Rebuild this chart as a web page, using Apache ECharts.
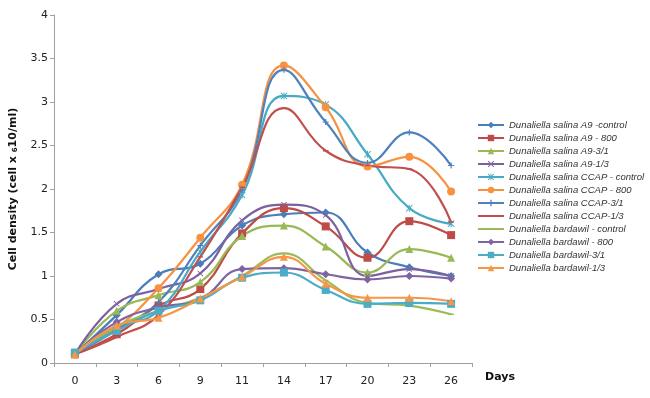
<!DOCTYPE html>
<html>
<head>
<meta charset="utf-8">
<script src="https://cdn.jsdelivr.net/npm/echarts@6/dist/echarts.min.js"></script>
<style>
  html, body { margin: 0; padding: 0; background: #fff; }
  #chart { width: 650px; height: 398px; }
</style>
</head>
<body>
<div id="chart"></div>
<script>
// categories (days)
const days = ["0", "3", "6", "9", "11", "14", "17", "20", "23", "26"];
const yTicks = [0, 0.5, 1, 1.5, 2, 2.5, 3, 3.5, 4];

// cell density values
const a9Control = [0.1, 0.55, 1.02, 1.14, 1.58, 1.71, 1.73, 1.27, 1.1, 1.0];
const a9_800 = [0.1, 0.33, 0.66, 0.85, 1.49, 1.78, 1.57, 1.21, 1.63, 1.47];
const a9_31 = [0.1, 0.6, 0.78, 0.93, 1.46, 1.58, 1.34, 1.04, 1.31, 1.21];
const a9_13 = [0.1, 0.68, 0.85, 1.03, 1.64, 1.82, 1.7, 1.0, 1.08, 1.0];
const ccapControl = [0.1, 0.4, 0.6, 1.28, 1.93, 3.07, 2.97, 2.4, 1.78, 1.6];
const ccap_800 = [0.1, 0.4, 0.86, 1.44, 2.05, 3.42, 2.94, 2.26, 2.37, 1.97];
const ccap_31 = [0.1, 0.38, 0.7, 1.35, 1.99, 3.37, 2.77, 2.3, 2.65, 2.27];
const ccap_13 = [0.1, 0.3, 0.55, 1.22, 2.02, 2.93, 2.44, 2.27, 2.23, 1.62];
const bardControl = [0.1, 0.42, 0.6, 0.75, 1.0, 1.26, 0.95, 0.69, 0.66, 0.56];
const bard_800 = [0.1, 0.47, 0.64, 0.73, 1.08, 1.09, 1.02, 0.96, 1.0, 0.97];
const bard_31 = [0.12, 0.37, 0.6, 0.72, 0.98, 1.04, 0.84, 0.68, 0.69, 0.68];
const bard_13 = [0.1, 0.43, 0.52, 0.74, 0.99, 1.22, 0.91, 0.75, 0.75, 0.71];

// marker shapes; the dash has two tiny corner dots so it is not stretched to a square
const crossPath = "path://M1,0L5,4L9,0L10,1L6,5L10,9L9,10L5,6L1,10L0,9L4,5L0,1Z";
const starPath = "path://M1,0L5,4L9,0L10,1L6,5L10,9L9,10L5,6L1,10L0,9L4,5L0,1Z M4.3,0H5.7V10H4.3Z";
const plusPath = "path://M4,0H6V4H10V6H6V10H4V6H0V4H4Z";
const dashPath = "path://M0,0H0.01V0.01H0Z M9.99,9.99H10V10H9.99Z M1,4H9V6H1Z";

const seriesDefs = [
  { name: "Dunaliella salina A9 -control", data: a9Control, color: "#4a7ebb", symbol: "diamond", size: 8 },
  { name: "Dunaliella salina A9 - 800", data: a9_800, color: "#be4b48", symbol: "rect", size: 8 },
  { name: "Dunaliella salina A9-3/1", data: a9_31, color: "#98b954", symbol: "triangle", size: 8 },
  { name: "Dunaliella salina A9-1/3", data: a9_13, color: "#7d60a0", symbol: crossPath, size: 6 },
  { name: "Dunaliella salina CCAP - control", data: ccapControl, color: "#46aac5", symbol: starPath, size: 7 },
  { name: "Dunaliella salina CCAP - 800", data: ccap_800, color: "#f69240", symbol: "circle", size: 8 },
  { name: "Dunaliella salina CCAP-3/1", data: ccap_31, color: "#4f81bd", symbol: plusPath, size: 6 },
  { name: "Dunaliella salina CCAP-1/3", data: ccap_13, color: "#c0504d", symbol: dashPath, size: 7 },
  { name: "Dunaliella bardawil - control", data: bardControl, color: "#9bbb59", symbol: dashPath, size: 7 },
  { name: "Dunaliella bardawil - 800", data: bard_800, color: "#8064a2", symbol: "diamond", size: 8 },
  { name: "Dunaliella bardawil-3/1", data: bard_31, color: "#4bacc6", symbol: "rect", size: 8 },
  { name: "Dunaliella bardawil-1/3", data: bard_13, color: "#f79646", symbol: "triangle", size: 8 }
];

const chart = echarts.init(document.getElementById("chart"));

const option = {
  animation: false,
  backgroundColor: "#fff",
  grid: { left: 49, right: 178, top: 15, bottom: 35, containLabel: false },
  legend: {
    orient: "vertical",
    left: 477,
    top: 120,
    itemWidth: 26,
    itemHeight: 8,
    itemGap: 3,
    padding: 0,
    textStyle: {
      fontFamily: "Liberation Sans",
      fontStyle: "italic",
      fontSize: 9.5,
      color: "#333"
    },
    data: seriesDefs.map((s) => s.name)
  },
  xAxis: {
    type: "category",
    data: days,
    boundaryGap: true,
    axisLine: { lineStyle: { color: "#a0a0a0" } },
    axisTick: { show: true, interval: 0, length: 4, lineStyle: { color: "#a0a0a0" } },
    axisLabel: {
      margin: 13,
      fontFamily: "DejaVu Sans",
      fontSize: 11,
      color: "#222"
    },
    splitLine: { show: false }
  },
  yAxis: {
    type: "value",
    min: yTicks[0],
    max: yTicks[yTicks.length - 1],
    interval: 0.5,
    name: "{b|Cell density (cell x }{s|6}{b|10/ml)}",
    nameLocation: "middle",
    nameRotate: 90,
    nameGap: 35,
    nameTextStyle: {
      rich: {
        b: { fontFamily: "DejaVu Sans", fontWeight: "bold", fontSize: 11, color: "#111" },
        s: { fontFamily: "DejaVu Sans", fontWeight: "bold", fontSize: 7, color: "#111", verticalAlign: "bottom", padding: [4, 0, 0, 0] }
      }
    },
    axisLine: { show: true, lineStyle: { color: "#a0a0a0" } },
    axisTick: { show: true, length: 4, lineStyle: { color: "#a0a0a0" } },
    axisLabel: {
      margin: 6,
      fontFamily: "DejaVu Sans",
      fontSize: 11,
      color: "#222"
    },
    splitLine: { show: false }
  },
  graphic: [
    {
      type: "text",
      left: 485,
      top: 372,
      style: {
        text: "Days",
        fontFamily: "DejaVu Sans",
        fontWeight: "bold",
        fontSize: 11,
        fill: "#111"
      }
    }
  ],
  series: seriesDefs.map((s) => ({
    name: s.name,
    type: "line",
    data: s.data,
    smooth: 0.45,
    symbol: s.symbol,
    symbolSize: s.size,
    showAllSymbol: true,
    color: s.color,
    lineStyle: { width: 2.2, color: s.color },
    itemStyle: { color: s.color }
  }))
};

chart.setOption(option);
</script>
</body>
</html>
